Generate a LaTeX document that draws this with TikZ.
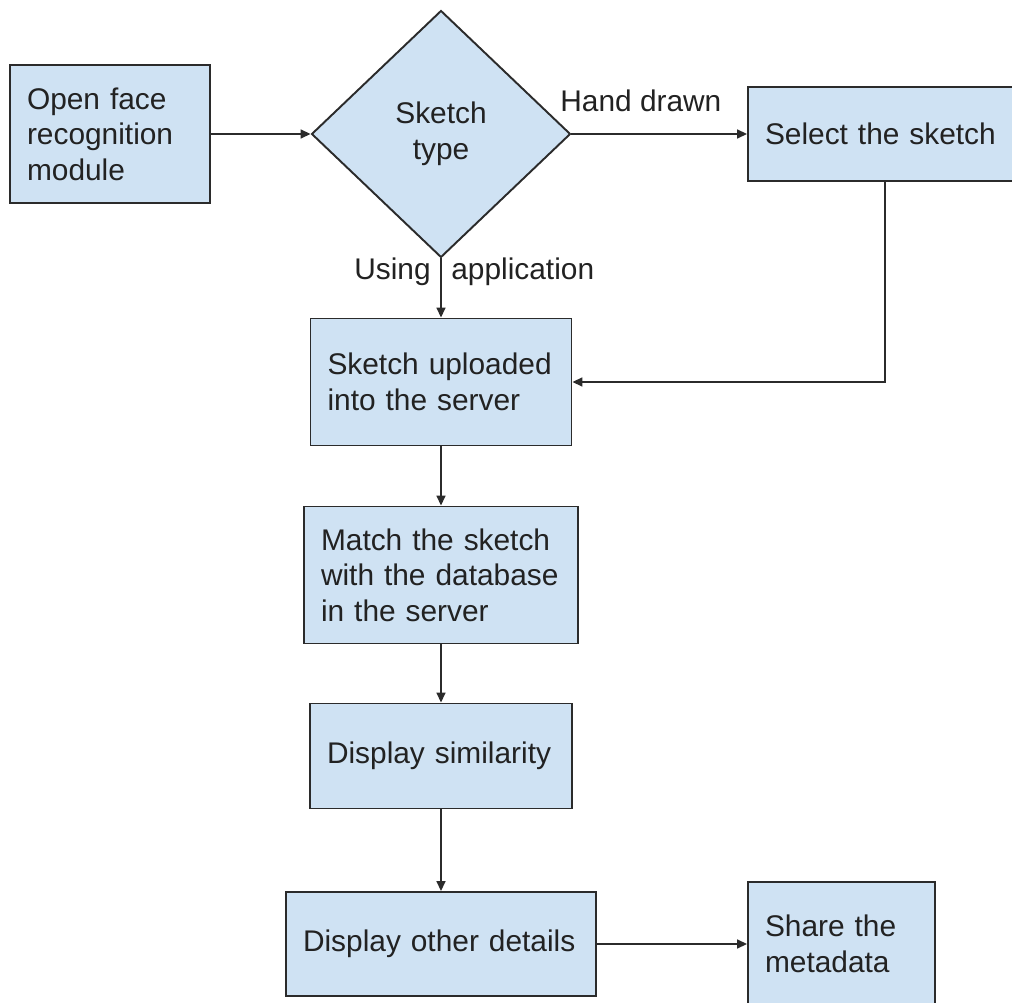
\documentclass[tikz,border=0pt]{standalone}
\usepackage{fontspec}
\setmainfont{Liberation Sans}
\usetikzlibrary{shapes.geometric,arrows.meta}
\definecolor{boxblue}{HTML}{CFE2F3}
\definecolor{boxline}{HTML}{2B2B2B}
\definecolor{txt}{HTML}{222222}

\begin{document}
\begin{tikzpicture}[x=0.02cm, y=-0.02cm,
	box/.style={draw=boxline, fill=boxblue, line width=1.1pt, inner xsep=0.34cm, inner ysep=0pt, align=left, text=txt, font=\fontsize{17}{20.2}\selectfont},
	decision/.style={diamond, draw=boxline, fill=boxblue, line width=1.1pt, inner sep=0pt, align=center, text=txt, font=\fontsize{17}{20.2}\selectfont},
	flow/.style={draw=boxline, line width=0.9pt, -{Triangle[length=2mm,width=1.8mm]}},
	lbl/.style={text=txt, inner sep=0pt, font=\fontsize{17}{20.2}\selectfont}]
	\useasboundingbox (0,0) rectangle (1012,1003);
	\clip (0,0) rectangle (1012,1003);

	%% Kaesten
	\node[box, text width=3.32cm, minimum height=2.76cm] (open) at (110,134) {Open face\\recognition\\module};
	\node[decision, minimum width=5.18cm, minimum height=4.94cm] (type) at (441,134) {Sketch\\type};
	\node[box, text width=4.8cm, minimum height=1.88cm] (select) at (885,134) {Select the sketch};
	\node[box, text width=4.54cm, minimum height=2.54cm] (upload) at (441,382) {Sketch uploaded\\into the server};
	\node[box, text width=4.8cm, minimum height=2.74cm] (match) at (441,575) {Match the sketch\\with the database\\in the server};
	\node[box, text width=4.56cm, minimum height=2.1cm] (similar) at (441,756) {Display similarity};
	\node[box, text width=5.52cm, minimum height=2.08cm] (details) at (441,944) {Display other details};
	\node[box, text width=3.06cm, minimum height=2.48cm] (share) at (841.5,944) {Share the\\metadata};

	%% Beschriftungen
	\node[lbl, anchor=base west] (hand) at (560,112) {Hand drawn};
	\node[lbl, anchor=base east] (using) at (431,280) {Using};
	\node[lbl, anchor=base west] (app) at (451,280) {application};

	%%%%%%%%%%%%%%%%

	%% Pfeile
	\draw[flow] (open) -- (type);
	\draw[flow] (type) -- (select);
	\draw[flow] (type) -- (upload);
	\draw[flow] (select) |- (upload);
	\draw[flow] (upload) -- (match);
	\draw[flow] (match) -- (similar);
	\draw[flow] (similar) -- (details);
	\draw[flow] (details) -- (share);
\end{tikzpicture}
\end{document}
